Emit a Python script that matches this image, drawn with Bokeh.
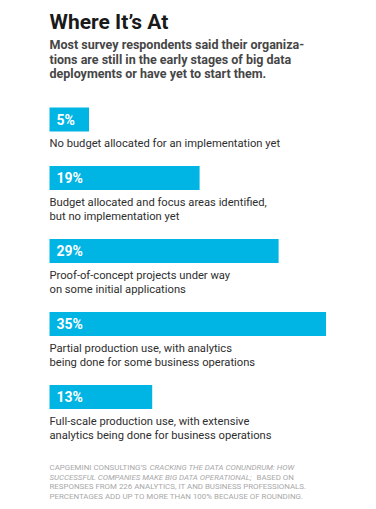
from bokeh.plotting import figure
from bokeh.models import Range1d, ColumnDataSource
from bokeh.core.properties import value
from bokeh.embed import file_html
from bokeh.resources import INLINE

# ---- data ----
values = [5, 19, 29, 35, 13]
pct_labels = ["5%", "19%", "29%", "35%", "13%"]
descriptions = [
    ["No budget allocated for an implementation yet"],
    ["Budget allocated and focus areas identified,", "but no implementation yet"],
    ["Proof-of-concept projects under way", "on some initial applications"],
    ["Partial production use, with analytics", "being done for some business operations"],
    ["Full-scale production use, with extensive", "analytics being done for business operations"],
]
title = "Where It\u2019s At"
subtitle = [
    "Most survey respondents said their organiza-",
    "tions are still in the early stages of big data",
    "deployments or have yet to start them.",
]
foot_plain_1 = "CAPGEMINI CONSULTING\u2019S"
foot_ital_1 = "CRACKING THE DATA CONUNDRUM: HOW"
foot_ital_2 = "SUCCESSFUL COMPANIES MAKE BIG DATA OPERATIONAL;"
foot_plain_2 = "BASED ON"
foot_lines_3 = [
    "RESPONSES FROM 226 ANALYTICS, IT AND BUSINESS PROFESSIONALS.",
    "PERCENTAGES ADD UP TO MORE THAN 100% BECAUSE OF ROUNDING.",
]

W, H = 376, 509
LEFT = 49
PX_PER_PCT = 7.9
BLUE = "#00B4E4"
FONT = "Roboto"

p = figure(width=W, height=H, output_backend="svg", toolbar_location=None,
           x_range=Range1d(-LEFT / PX_PER_PCT, (W - LEFT) / PX_PER_PCT),
           y_range=Range1d(H, 0), min_border=0)
p.axis.visible = False
p.grid.visible = False
p.outline_line_color = None
p.background_fill_color = "white"
p.border_fill_color = "white"

# title + subtitle
p.text(x=[0], y=[21], text=[title], text_font=value(FONT), text_font_style="bold",
       text_font_size="21px", text_color="#1a1a1a", text_baseline="middle")
p.text(x=[0] * 3, y=[44 + i * 14.5 for i in range(3)], text=subtitle, text_font=value(FONT),
       text_font_style="bold", text_font_size="12.5px", text_color="#464646", text_baseline="middle")

# bars
tops = []
t = 107
for d in descriptions:
    tops.append(t)
    t += 44 + 14.5 * len(d)
bar_h = 24
src = ColumnDataSource(dict(left=[0] * len(values), right=values,
                            top=tops, bottom=[tt + bar_h for tt in tops],
                            lab=pct_labels, ymid=[tt + bar_h / 2 for tt in tops],
                            xl=[7 / PX_PER_PCT] * len(values)))
p.quad(left="left", right="right", top="top", bottom="bottom", source=src,
       fill_color=BLUE, line_color=None)
p.text(x="xl", y="ymid", text="lab", source=src, text_font=value(FONT), text_font_style="bold",
       text_font_size="14px", text_color="white", text_baseline="middle")

# descriptions
dx, dy, dt = [], [], []
for i, d in enumerate(descriptions):
    for j, line in enumerate(d):
        dx.append(0)
        dy.append(tops[i] + bar_h + 12 + j * 14.5)
        dt.append(line)
p.text(x=dx, y=dy, text=dt, text_font=value(FONT), text_font_size="11.2px",
       text_color="#2e2e2e", text_baseline="middle")

# footnote
FC = "#a8a8a8"
FS = "7.9px"
FSI = "7.9px"
fy = [467, 476.7, 486.4, 496.1]
p.text(x=[0], y=[fy[0]], text=[foot_plain_1], text_font=value(FONT), text_font_size=FS,
       text_color=FC, text_baseline="middle")
p.text(x=[(149 - LEFT) / PX_PER_PCT], y=[fy[0]], text=[foot_ital_1], text_font=value(FONT),
       text_font_style="italic", text_font_size=FSI, text_color=FC, text_baseline="middle")
p.text(x=[0], y=[fy[1]], text=[foot_ital_2], text_font=value(FONT),
       text_font_style="italic", text_font_size=FSI, text_color=FC, text_baseline="middle")
p.text(x=[(256 - LEFT) / PX_PER_PCT], y=[fy[1]], text=[foot_plain_2], text_font=value(FONT),
       text_font_size=FS, text_color=FC, text_baseline="middle")
p.text(x=[0, 0], y=fy[2:], text=foot_lines_3, text_font=value(FONT), text_font_size=FS,
       text_color=FC, text_baseline="middle")

open("out.html", "w").write(file_html(p, INLINE))
